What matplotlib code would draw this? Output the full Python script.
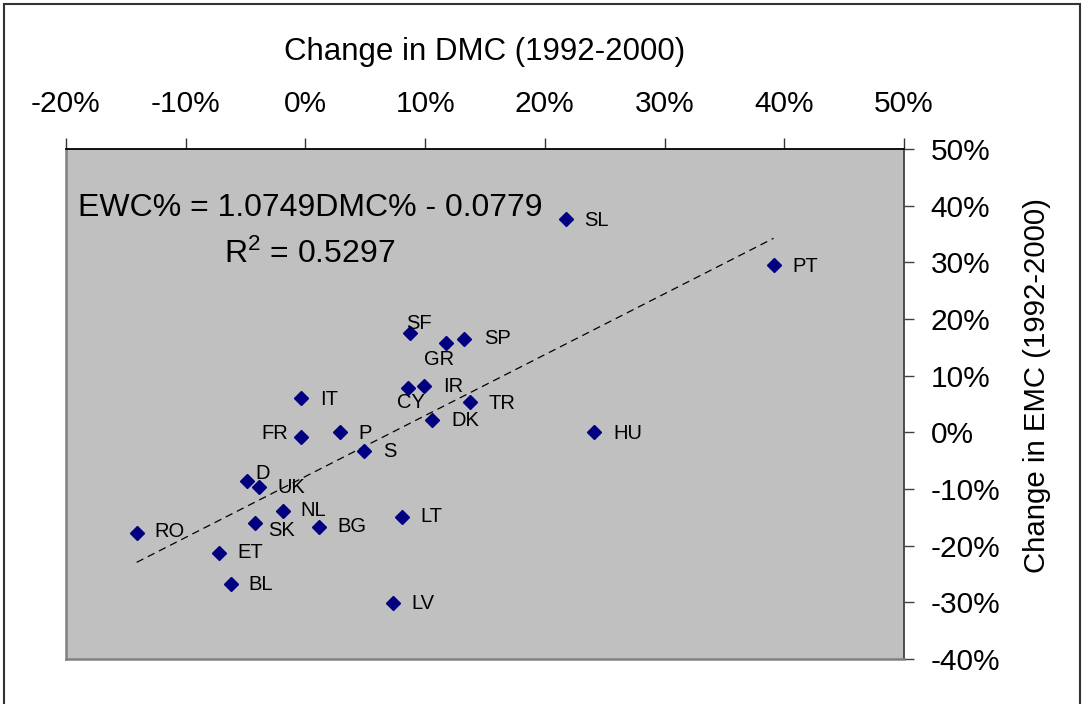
import numpy as np
import matplotlib
matplotlib.use("Agg")
from matplotlib import pyplot as plt
from matplotlib.patches import Rectangle
from matplotlib.ticker import PercentFormatter, MultipleLocator

# Change in DMC (x) and change in EMC (y), 1992-2000, as fractions
countries = ["SL", "PT", "SF", "GR", "SP", "IR", "CY", "IT", "TR", "DK", "FR", "P",
             "S", "HU", "D", "UK", "NL", "SK", "BG", "LT", "RO", "ET", "BL", "LV"]
dmc = [0.2175, 0.391, 0.087, 0.1175, 0.1325, 0.099, 0.086, -0.004, 0.1375, 0.106,
       -0.004, 0.029, 0.049, 0.241, -0.049, -0.039, -0.019, -0.0425, 0.011, 0.081,
       -0.141, -0.0725, -0.0625, 0.073]
emc = [0.3765, 0.295, 0.175, 0.158, 0.165, 0.081, 0.078, 0.061, 0.054, 0.022,
       -0.008, 0.001, -0.033, 0.001, -0.086, -0.096, -0.139, -0.160, -0.167, -0.149,
       -0.178, -0.213, -0.268, -0.301]

# trend line as printed on the chart
slope = 1.0749
intercept = -0.0779
r2 = 0.5297

# label offsets in pixels (dx right, dy down, relative to label cap-centre)
offsets = {
    "SL": (18, 0), "PT": (19, 0), "SF": (-3, -11), "SP": (20, -2), "GR": (-22, 15),
    "IR": (19, -1), "CY": (-11, 13), "IT": (19, 0), "TR": (18, 0), "DK": (19, -1),
    "FR": (-13, -5), "P": (18, 0), "S": (19, -1), "HU": (19, 0), "D": (9, -9),
    "UK": (19, -1), "NL": (18, -2), "SK": (14, 6), "BG": (19, -2), "LT": (18, -2),
    "RO": (18, -3), "ET": (19, -2), "BL": (18, -1), "LV": (19, -1),
}

plt.rcParams["font.family"] = ["Liberation Sans", "DejaVu Sans"]
plt.rcParams["axes.unicode_minus"] = False
plt.rcParams["mathtext.default"] = "regular"
plt.rcParams["mathtext.fontset"] = "custom"
plt.rcParams["mathtext.rm"] = "Liberation Sans"

fig = plt.figure(figsize=(10.82, 7.04), dpi=100)
ax = fig.add_axes([66 / 1082, 1 - 659 / 704, 838 / 1082, 510 / 704])
ax.set_facecolor("#C0C0C0")

# outer chart frame
fig.patches.append(Rectangle((3.5 / 1082, -0.05), 1 - 6 / 1082, 1.05 - 3.5 / 704,
                             transform=fig.transFigure, fill=False,
                             edgecolor="#333333", lw=1.5))

xs = np.array([min(dmc), max(dmc)])
ax.plot(xs, slope * xs + intercept, color="black", lw=0.9, dashes=(6, 4))
ax.plot(dmc, emc, linestyle="none", marker="D", ms=7, color="#000080",
        markeredgecolor="#000080")

for name, x, y in zip(countries, dmc, emc):
    dx, dy = offsets[name]
    ax.annotate(name, (x, y), xytext=(dx, -dy - 7), textcoords="offset pixels",
                ha="right" if name == "FR" else "left", va="baseline",
                fontsize=14.5, color="black")

ax.text(0.291, 0.8686, "EWC%% = %.4fDMC%% - %.4f" % (slope, -intercept),
        transform=ax.transAxes, ha="center", va="baseline", fontsize=23)
ax.text(0.291, 0.7765, "R$^{2}$ = %.4f" % r2, transform=ax.transAxes,
        ha="center", va="baseline", fontsize=23)

ax.set_xlim(-0.2, 0.5)
ax.set_ylim(-0.4, 0.5)
ax.xaxis.set_major_locator(MultipleLocator(0.1))
ax.yaxis.set_major_locator(MultipleLocator(0.1))
ax.xaxis.set_major_formatter(PercentFormatter(1.0, decimals=0))
ax.yaxis.set_major_formatter(PercentFormatter(1.0, decimals=0))

ax.xaxis.tick_top()
ax.yaxis.tick_right()
ax.tick_params(axis="x", direction="out", length=8, width=1, pad=14,
               labelsize=21.5, colors="black")
ax.tick_params(axis="y", direction="out", length=7, width=1, pad=12,
               labelsize=21.5, colors="black")
ax.tick_params(axis="x", color="#333333")
ax.tick_params(axis="y", color="#404040")

ax.set_xlabel("Change in DMC (1992-2000)", fontsize=22.5)
ax.xaxis.set_label_position("top")
ax.xaxis.label.set_va("center")
ax.xaxis.set_label_coords(0.5, 1.19)
ax.set_ylabel("Change in EMC (1992-2000)", fontsize=21.2, rotation=90)
ax.yaxis.set_label_position("right")
ax.yaxis.label.set_va("center")
ax.yaxis.label.set_ha("center")
ax.yaxis.set_label_coords(1.159, 0.537)

ax.spines["top"].set_color("black")
ax.spines["top"].set_linewidth(1.3)
ax.spines["right"].set_color("#404040")
ax.spines["right"].set_linewidth(1.3)
for side in ("left", "bottom"):
    ax.spines[side].set_color("#808080")
    ax.spines[side].set_linewidth(1.8)

fig.savefig("out.png", dpi=100)
